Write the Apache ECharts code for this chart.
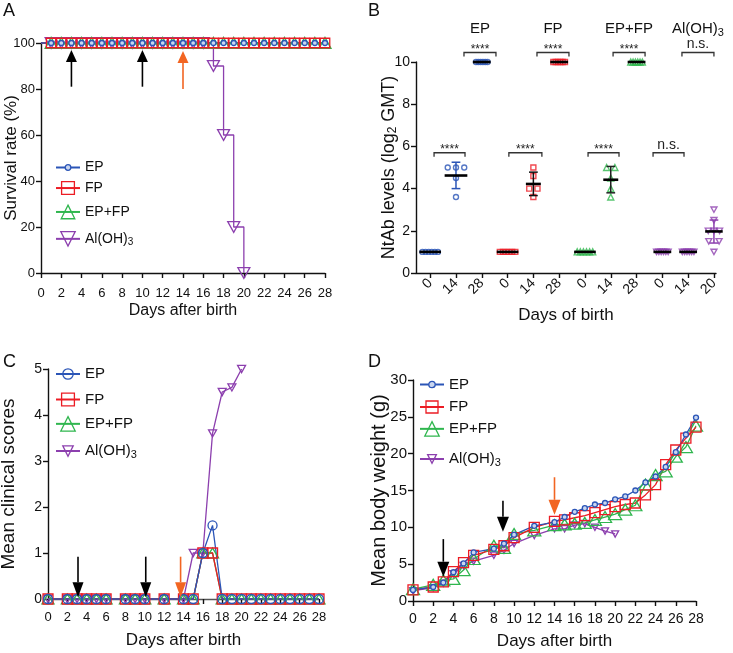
<!DOCTYPE html>
<html><head><meta charset="utf-8">
<script src="https://cdn.jsdelivr.net/npm/echarts@6/dist/echarts.min.js"></script>
<style>html,body{margin:0;padding:0;background:#fff}#c{width:733px;height:653px}</style>
</head><body><div id="c"></div>
<script>
// ================= DATA =================
// Panel A – survival rate (%)
const daysA      = [0,1,2,3,4,5,6,7,8,9,10,11,12,13,14,15,16,17,18,19,20,21,22,23,24,25,26,27,28];
const survA_EP   = [100,100,100,100,100,100,100,100,100,100,100,100,100,100,100,100,100,100,100,100,100,100,100,100,100,100,100,100,100];
const survA_FP   = [100,100,100,100,100,100,100,100,100,100,100,100,100,100,100,100,100,100,100,100,100,100,100,100,100,100,100,100,100];
const survA_EPFP = [100,100,100,100,100,100,100,100,100,100,100,100,100,100,100,100,100,100,100,100,100,100,100,100,100,100,100,100,100];
const daysA_Al   = [0,1,2,3,4,5,6,7,8,9,10,11,12,13,14,15,16,17,18,19,20];
const survA_Al   = [100,100,100,100,100,100,100,100,100,100,100,100,100,100,100,100,100,90,60,20,0];
const arrowA_day  = [3,10,14];
const arrowA_from = [81,81,80];
const arrowA_to   = [97,97,96.5];

// Panel B – NtAb levels (log2 GMT)
const catLabelsB = ['0','14','28','0','14','28','0','14','28','0','14','20'];
const pointsB = [
  [1,1,1,1,1,1],
  [5,5,5,4.5,3.6],
  [10,10,10,10,10,10],
  [1,1,1,1,1,1],
  [5,4.6,4,4,3.6],
  [10,10,10,10,10,10],
  [1,1,1,1,1,1],
  [5,5,4.5,4,3.6],
  [10,10,10,10,10,10],
  [1,1,1,1,1,1],
  [1,1,1,1,1,1],
  [3,2.5,2,2,2,1.5,1.5,1]
];
const meanB  = [1,4.62,10,1,4.22,10,1,4.42,10,1,1,1.97];
const errLoB = [1,4.0,10,1,3.67,10,1,3.8,10,1,1,1.42];
const errHiB = [1,5.25,10,1,4.78,10,1,5.05,10,1,1,2.51];
const groupNamesB   = ['EP','FP','EP+FP','Al(OH)3'];
const bracketFromB  = [0.15,1.31,3.05,4.14,6.12,7.09,8.64,9.76];
const bracketToB    = [1.35,2.55,4.33,5.38,7.32,8.33,9.84,11.0];
const bracketYB     = [5.7,10.45,5.7,10.45,5.7,10.45,5.7,10.45];
const bracketTextB  = ['****','****','****','****','****','****','n.s.','n.s.'];
const groupLabelYB  = 11.55;

// Panel C – mean clinical scores
const daysC      = [0,2,3,4,5,6,8,9,10,12,14,15,16,17,18,19,20,21,22,23,24,25,26,27,28];
const scoreC_EP   = [0,0,0,0,0,0,0,0,0,0,0,0,1.0,1.6,0,0,0,0,0,0,0,0,0,0,0];
const scoreC_FP   = [0,0,0,0,0,0,0,0,0,0,0,0,1.0,1.0,0,0,0,0,0,0,0,0,0,0,0];
const scoreC_EPFP = [0,0,0,0,0,0,0,0,0,0,0,0,1.0,1.0,0,0,0,0,0,0,0,0,0,0,0];
const daysC_Al    = [0,2,3,4,5,6,8,9,10,12,14,15,16,17,18,19,20];
const scoreC_Al   = [0,0,0,0,0,0,0,0,0,0,0,1.0,1.0,3.6,4.5,4.6,5.0];
const arrowC_day  = [3.1,10.1,13.7];
const arrowC_from = [0.92,0.92,0.92];
const arrowC_to   = [0.04,0.04,0.04];

// Panel D – mean body weight (g)
const daysD      = [0,2,3,4,5,6,8,9,10,12,14,15,16,17,18,19,20,21,22,23,24,25,26,27,28];
const weightD_EP   = [1.5,1.9,2.5,3.9,5.1,6.6,7.1,7.8,9.0,10.2,10.7,11.4,12.1,12.6,13.1,13.3,13.8,14.2,15.0,16.1,16.9,18.2,20.2,22.6,24.9];
const weightD_FP   = [1.5,1.9,2.6,4.0,5.2,6.2,7.0,7.5,8.6,10.0,10.8,11.0,11.3,11.6,12.0,12.4,12.8,13.1,13.3,14.4,15.8,18.5,20.5,22.1,23.6];
const weightD_EPFP = [1.6,2.2,2.8,3.0,4.2,5.7,7.5,7.2,9.1,9.6,10.3,10.4,10.5,10.6,11.0,11.4,11.8,12.4,13.0,15.8,17.1,17.6,19.6,20.9,23.8];
const daysD_Al     = [0,2,3,4,5,6,8,9,10,12,14,15,16,17,18,19,20];
const weightD_Al   = [1.4,1.8,2.4,3.7,4.8,5.4,6.2,6.9,7.8,8.9,9.8,9.8,10.3,10.5,10.0,9.5,9.1];
const arrowD_day  = [3,8.9,14];
const arrowD_from = [8.4,13.6,16.8];
const arrowD_to   = [3.3,9.4,11.7];

// ================= STYLE =================
const FONT = '"Liberation Sans", Arial, sans-serif';
const INK = '#111';
const COL = {EP:'#2b55b7', FP:'#ec1c24', EPFP:'#2fb64e', AL:'#8c3fae', OR:'#f26522'};
const DOWN_TRI = 'path://M0,0L10,0L5,9Z';
const legendLabel = {EP:'EP', FP:'FP', EPFP:'EP+FP', AL:'{n|Al(OH)}{s|3}'};

function mkLine(gi, name, xs, ys, sty, extra) {
  return Object.assign({
    type:'line', name, xAxisIndex:gi, yAxisIndex:gi, clip:false, animation:false, silent:true,
    data: xs.map((x,i)=>[x, ys[i]]),
    symbol: sty.symbol, symbolSize: sty.size, symbolKeepAspect:true, showAllSymbol:true,
    lineStyle:{color: sty.color, width: 1.3},
    itemStyle:{color: sty.fill || 'rgba(0,0,0,0)', borderColor: sty.color, borderWidth: 1.3},
    emphasis:{disabled:true}
  }, extra || {});
}
function mkLegend(seriesName, left, yc, h, fs) {
  return {
    left, top: yc - h/2, padding:0, itemWidth:24, itemHeight:h, selectedMode:false,
    data:[seriesName],
    itemStyle:{borderWidth:1.3},
    formatter: n => legendLabel[n.split('|')[1]],
    textStyle:{fontFamily:FONT, fontSize:fs, color:INK,
      rich:{n:{fontFamily:FONT, fontSize:fs, color:INK}, s:{fontFamily:FONT, fontSize:Math.round(fs*0.72), color:INK, padding:[7,0,0,0]}}}
  };
}
function mkArrows(gi, xs, y0, y1, cols, headLen, headW) {
  return {
    type:'custom', xAxisIndex:gi, yAxisIndex:gi, z:10, silent:true, clip:false, animation:false,
    data: xs.map((x,i)=>[x, y0[i], y1[i]]),
    renderItem(params, api) {
      const p0 = api.coord([api.value(0), api.value(1)]);
      const p1 = api.coord([api.value(0), api.value(2)]);
      const dir = Math.sign(p1[1]-p0[1]);
      const base = p1[1] - dir*headLen;
      const c = cols[params.dataIndex];
      return {type:'group', children:[
        {type:'line', shape:{x1:p0[0], y1:p0[1], x2:p1[0], y2:base}, style:{stroke:c, lineWidth:1.6}},
        {type:'polygon', shape:{points:[[p1[0],p1[1]],[p1[0]-headW/2,base],[p1[0]+headW/2,base]]}, style:{fill:c}}
      ]};
    }
  };
}
function axisBase(gi, fs) {
  return {
    gridIndex:gi, type:'value',
    axisLine:{show:true, onZero:false, lineStyle:{color:INK, width:1.4}},
    axisTick:{show:true, inside:false, length:5, lineStyle:{color:INK, width:1.4}},
    splitLine:{show:false},
    axisLabel:{color:INK, fontFamily:FONT, fontSize:fs},
    nameLocation:'middle', nameMoveOverlap:false,
    nameTextStyle:{color:INK, fontFamily:FONT}
  };
}
function xA(gi, o) { return Object.assign(axisBase(gi, o.fs), o.extra); }

const BLACK_ARROWS = ['#000','#000',COL.OR];

// ---- Panel B derived layout (jitter of identical values) ----
const rowStepB = [0.12,0.32,0.09,0.12,0.32,0.09,0.12,0.32,0.09,0.09,0.09,0.22];
function jitterB(ci) {
  const vals = pointsB[ci];
  const out = [];
  const seen = {};
  const counts = {};
  vals.forEach(v => counts[v] = (counts[v]||0)+1);
  let step = rowStepB[ci];
  vals.forEach(v => {
    const m = counts[v]; const k = seen[v] || 0; seen[v] = k+1;
    const st = (ci === 11 && m === 2) ? 0.4 : step;
    out.push([ci + (k-(m-1)/2)*st, v]);
  });
  return out;
}
const meanHalfB = pointsB.map((vals,ci)=>{
  const c = {}; vals.forEach(v=>c[v]=(c[v]||0)+1);
  const mx = Math.max(...Object.values(c));
  return Math.max((mx-1)*rowStepB[ci]/2 + 0.12, 0.29);
});
const groupStyleB = [
  {color:COL.EP, symbol:'circle', size:5},
  {color:COL.FP, symbol:'rect', size:5},
  {color:COL.EPFP, symbol:'triangle', size:6},
  {color:COL.AL, symbol:DOWN_TRI, size:6}
];
const barColB = [COL.EP,COL.EP,COL.EP,'#111','#111','#111','#222','#222','#222',COL.AL,COL.AL,COL.AL];

const seriesB = groupStyleB.map((g,gi)=>({
  type:'scatter', xAxisIndex:1, yAxisIndex:1, clip:false, silent:true, animation:false, z:3,
  name:'B|'+gi,
  data: [0,1,2].flatMap(k=>jitterB(gi*3+k)),
  symbol:g.symbol, symbolSize:g.size, symbolKeepAspect:true,
  itemStyle:{color:'rgba(0,0,0,0)', borderColor:g.color, borderWidth:1.4}
}));
seriesB.push({
  type:'custom', xAxisIndex:1, yAxisIndex:1, z:6, clip:false, silent:true, animation:false,
  data: meanB.map((m,i)=>[i, m, errLoB[i], errHiB[i]]),
  renderItem(params, api) {
    const i = params.dataIndex;
    const x = api.value(0), m = api.value(1), lo = api.value(2), hi = api.value(3);
    const ch = [];
    const c = barColB[i];
    if (hi > lo) {
      const a = api.coord([x, lo]), b = api.coord([x, hi]);
      const cap = api.size([0.17, 0])[0];
      ch.push({type:'line', shape:{x1:a[0],y1:a[1],x2:b[0],y2:b[1]}, style:{stroke:c, lineWidth:1.5}});
      ch.push({type:'line', shape:{x1:a[0]-cap,y1:a[1],x2:a[0]+cap,y2:a[1]}, style:{stroke:c, lineWidth:1.5}});
      ch.push({type:'line', shape:{x1:b[0]-cap,y1:b[1],x2:b[0]+cap,y2:b[1]}, style:{stroke:c, lineWidth:1.5}});
    }
    const l = api.coord([x - meanHalfB[i], m]), r = api.coord([x + meanHalfB[i], m]);
    ch.push({type:'line', shape:{x1:l[0],y1:l[1],x2:r[0],y2:r[1]}, style:{stroke:'#000', lineWidth:2.6}});
    return {type:'group', children:ch};
  }
});
seriesB.push({
  type:'custom', xAxisIndex:1, yAxisIndex:1, z:6, clip:false, silent:true, animation:false,
  data: bracketFromB.map((f,i)=>[f, bracketToB[i], bracketYB[i]]),
  renderItem(params, api) {
    const i = params.dataIndex;
    const p0 = api.coord([api.value(0), api.value(2)]);
    const p1 = api.coord([api.value(1), api.value(2)]);
    const stars = bracketTextB[i] === '****';
    return {type:'group', children:[
      {type:'polyline', shape:{points:[[p0[0],p0[1]+4],[p0[0],p0[1]],[p1[0],p1[1]],[p1[0],p1[1]+4]]}, style:{stroke:'#333', lineWidth:1.3, fill:null}},
      {type:'text', style:{text:bracketTextB[i], x:(p0[0]+p1[0])/2, y: stars ? p0[1]-3 : p0[1]-1,
        align:'center', verticalAlign: stars ? 'middle' : 'bottom', fill:'#222',
        font: (stars ? '12px ' : '14px ') + FONT}}
    ]};
  }
});
seriesB.push({
  type:'custom', xAxisIndex:1, yAxisIndex:1, z:6, clip:false, silent:true, animation:false,
  data: groupNamesB.map((n,i)=>[(bracketFromB[2*i+1]+bracketToB[2*i+1])/2, groupLabelYB]),
  renderItem(params, api) {
    const p = api.coord([api.value(0), api.value(1)]);
    const name = groupNamesB[params.dataIndex];
    const txt = name === 'Al(OH)3' ? '{n|Al(OH)}{s|3}' : '{n|' + name + '}';
    return {type:'text', style:{text:txt, x:p[0], y:p[1], align:'center', verticalAlign:'middle',
      rich:{n:{fontFamily:FONT, fontSize:15, fill:INK}, s:{fontFamily:FONT, fontSize:11, fill:INK, padding:[7,0,0,0]}}}};
  }
});

// ================= OPTION =================
const option = {
  animation:false,
  backgroundColor:'#fff',
  grid:[
    {left:41, top:43, width:284, height:230, outerBoundsMode:'none'},
    {left:416, top:62, width:300, height:211, outerBoundsMode:'none'},
    {left:48, top:369, width:271, height:230, outerBoundsMode:'none'},
    {left:413, top:380, width:283, height:221, outerBoundsMode:'none'}
  ],
  xAxis:[
    xA(0,{fs:13, extra:{min:0, max:28, interval:2, name:'Days after birth', nameGap:30,
      axisLabel:{color:INK, fontFamily:FONT, fontSize:13, margin:14},
      nameTextStyle:{color:INK, fontFamily:FONT, fontSize:16}}}),
    xA(1,{fs:14, extra:{min:-0.55, max:11.08, name:'Days of birth', nameGap:34,
      axisTick:{show:true, length:5, lineStyle:{color:INK, width:1.4}, customValues:[0,1,2,3,4,5,6,7,8,9,10,11]},
      axisLabel:{color:INK, fontFamily:FONT, fontSize:14, margin:8, rotate:45,
        customValues:[0,1,2,3,4,5,6,7,8,9,10,11], formatter: v => catLabelsB[Math.round(v)]},
      nameTextStyle:{color:INK, fontFamily:FONT, fontSize:17}}}),
    xA(2,{fs:13, extra:{min:0, max:28, interval:2, name:'Days after birth', nameGap:33,
      axisLine:{show:true, onZero:false, lineStyle:{color:'#555', width:1.4}},
      axisLabel:{color:INK, fontFamily:FONT, fontSize:13, margin:12},
      nameTextStyle:{color:INK, fontFamily:FONT, fontSize:17}}}),
    xA(3,{fs:14, extra:{min:0, max:28, interval:2, name:'Days after birth', nameGap:32,
      axisLabel:{color:INK, fontFamily:FONT, fontSize:14, margin:11},
      nameTextStyle:{color:INK, fontFamily:FONT, fontSize:17}}})
  ],
  yAxis:[
    xA(0,{fs:13, extra:{min:0, max:100, interval:20, name:'Survival rate (%)', nameGap:21,
      axisLabel:{color:INK, fontFamily:FONT, fontSize:13, margin:6},
      nameTextStyle:{color:INK, fontFamily:FONT, fontSize:17}}}),
    xA(1,{fs:14, extra:{min:0, max:10, interval:2, name:'NtAb levels (log{s|2} GMT)', nameGap:17,
      axisLabel:{color:INK, fontFamily:FONT, fontSize:14, margin:6},
      nameTextStyle:{color:INK, fontFamily:FONT, fontSize:18, rich:{s:{fontFamily:FONT, fontSize:12, color:INK, padding:[8,0,0,0]}}}}}),
    xA(2,{fs:13, extra:{min:0, max:5, interval:1, name:'Mean clinical scores', nameGap:30,
      axisLabel:{color:INK, fontFamily:FONT, fontSize:14, margin:6},
      nameTextStyle:{color:INK, fontFamily:FONT, fontSize:19}}}),
    xA(3,{fs:14, extra:{min:0, max:30, interval:5, name:'Mean body weight (g)', nameGap:24,
      axisLabel:{color:INK, fontFamily:FONT, fontSize:15, margin:6},
      nameTextStyle:{color:INK, fontFamily:FONT, fontSize:20}}})
  ],
  legend:[
    mkLegend('A|EP', 55, 164, 7, 14),
    mkLegend('A|FP', 55, 189, 16, 14),
    mkLegend('A|EPFP', 55, 213, 17, 14),
    mkLegend('A|AL', 55, 240, 18, 14),
    mkLegend('C|EP', 55, 373, 13, 15),
    mkLegend('C|FP', 55, 400, 16, 15),
    mkLegend('C|EPFP', 55, 425, 18, 15),
    mkLegend('C|AL', 55, 450, 13, 15),
    mkLegend('D|EP', 419, 381, 8, 15),
    mkLegend('D|FP', 419, 407, 15, 15),
    mkLegend('D|EPFP', 419, 430, 18, 15),
    mkLegend('D|AL', 419, 457, 11, 15)
  ],
  graphic:[
    {type:'text', left:3, top:2, style:{text:'A', font:'18px '+FONT, fill:INK}},
    {type:'text', left:368, top:2, style:{text:'B', font:'18px '+FONT, fill:INK}},
    {type:'text', left:3, top:353, style:{text:'C', font:'18px '+FONT, fill:INK}},
    {type:'text', left:368, top:353, style:{text:'D', font:'18px '+FONT, fill:INK}}
  ],
  series:[
    // A
    mkLine(0,'A|AL', daysA_Al, survA_Al, {symbol:DOWN_TRI, size:12, color:COL.AL}, {step:'end'}),
    mkLine(0,'A|EPFP', daysA, survA_EPFP, {symbol:'triangle', size:[12,11], color:COL.EPFP}),
    mkLine(0,'A|FP', daysA, survA_FP, {symbol:'rect', size:9.5, color:COL.FP}),
    mkLine(0,'A|EP', daysA, survA_EP, {symbol:'circle', size:5, color:COL.EP, fill:'#c9d6f0'}),
    mkArrows(0, arrowA_day, arrowA_from, arrowA_to, BLACK_ARROWS, 12, 11),
    // B
    ...seriesB,
    // C
    mkLine(2,'C|AL', daysC_Al, scoreC_Al, {symbol:DOWN_TRI, size:8, color:COL.AL}),
    mkLine(2,'C|EPFP', daysC, scoreC_EPFP, {symbol:'triangle', size:[12,10], color:COL.EPFP}),
    mkLine(2,'C|FP', daysC, scoreC_FP, {symbol:'rect', size:10, color:COL.FP}),
    mkLine(2,'C|EP', daysC, scoreC_EP, {symbol:'circle', size:9, color:COL.EP}),
    mkArrows(2, arrowC_day, arrowC_from, arrowC_to, BLACK_ARROWS, 15, 11),
    // D
    mkLine(3,'D|AL', daysD_Al, weightD_Al, {symbol:DOWN_TRI, size:7, color:COL.AL}),
    mkLine(3,'D|EPFP', daysD, weightD_EPFP, {symbol:'triangle', size:[13,11], color:COL.EPFP}),
    mkLine(3,'D|FP', daysD, weightD_FP, {symbol:'rect', size:10, color:COL.FP}),
    mkLine(3,'D|EP', daysD, weightD_EP, {symbol:'circle', size:5, color:COL.EP, fill:'#c9d6f0'}),
    mkArrows(3, arrowD_day, arrowD_from, arrowD_to, BLACK_ARROWS, 15, 12)
  ]
};
// hide the day-0 marker of the survival curves (curve starts at the axis)
option.series.slice(0,4).forEach(s => { s.data[0] = {value:s.data[0], symbol:'none'}; });

const chart = echarts.init(document.getElementById('c'), null, {renderer:'canvas'});
chart.setOption(option);
</script>
</body></html>
